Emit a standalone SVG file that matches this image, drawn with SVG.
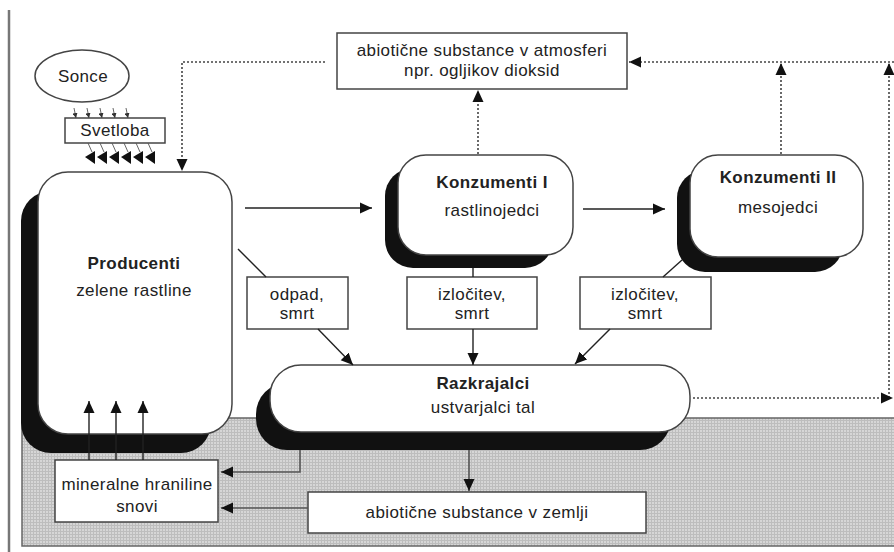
<svg xmlns="http://www.w3.org/2000/svg" width="894" height="552" viewBox="0 0 894 552">
<defs>
<style>
text{font-family:"Liberation Sans",Arial,sans-serif;font-size:17px;fill:#222;text-anchor:middle;letter-spacing:0.4px}
.b{font-weight:bold}
.box{fill:#fff;stroke:#444;stroke-width:1.5}
.shadow{fill:#111}
.ln{stroke:#222;stroke-width:1.4;fill:none}
.dot{stroke:#444;stroke-width:1.6;fill:none;stroke-dasharray:2 2}
.gln{stroke:#555;stroke-width:1.6;fill:none}
</style>
<marker id="ah" viewBox="0 0 12 12" refX="12" refY="6" markerWidth="12" markerHeight="12" markerUnits="userSpaceOnUse" orient="auto"><path d="M0,0.5 L12,6 L0,11.5 z" fill="#111"/></marker>
<marker id="ahs" viewBox="0 0 6 6" refX="6" refY="3" markerWidth="5" markerHeight="5" markerUnits="userSpaceOnUse" orient="auto"><path d="M0,0 L6,3 L0,6 z" fill="#333"/></marker>
<pattern id="grid" width="3" height="3" patternUnits="userSpaceOnUse"><rect width="3" height="3" fill="#d6d6d6"/><path d="M0,0.5 H3 M0.5,0 V3" stroke="#bdbdbd" stroke-width="1"/></pattern>
</defs>
<rect width="894" height="552" fill="#fff"/>
<line x1="9" y1="10" x2="9" y2="552" stroke="#777" stroke-width="2.5"/>
<rect x="22" y="418" width="880" height="128" fill="url(#grid)" stroke="#666" stroke-width="1.5"/>

<g id="sonce">
<ellipse cx="82" cy="76" rx="47" ry="26" class="box"/>
<text x="83" y="82">Sonce</text>
</g>
<g id="svetloba">
<rect x="65" y="118" width="100" height="25" class="box"/>
<text x="115" y="136">Svetloba</text>
</g>
<g id="atmosfera">
<rect x="337" y="33" width="290" height="56" class="box"/>
<text x="482" y="56">abiotične substance v atmosferi</text>
<text x="482" y="76">npr. ogljikov dioksid</text>
</g>
<g id="producenti">
<rect x="21" y="191" width="190" height="262" rx="30" class="shadow"/>
<rect x="38" y="172" width="194" height="262" rx="30" class="box"/>
<text x="134" y="269" class="b">Producenti</text>
<text x="134" y="296">zelene rastline</text>
</g>
<g id="konzumenti1">
<rect x="385" y="168" width="168" height="100" rx="28" class="shadow"/>
<rect x="398" y="155" width="175" height="100" rx="28" class="box"/>
<text x="492" y="188" class="b">Konzumenti I</text>
<text x="492" y="216">rastlinojedci</text>
</g>
<g id="konzumenti2">
<rect x="677" y="170" width="166" height="102" rx="28" class="shadow"/>
<rect x="690" y="155" width="173" height="102" rx="28" class="box"/>
<text x="778" y="183" class="b">Konzumenti II</text>
<text x="778" y="213">mesojedci</text>
</g>
<g id="odpad">
<rect x="247" y="277" width="101" height="52" class="box"/>
<text x="297" y="300">odpad,</text>
<text x="297" y="319">smrt</text>
</g>
<g id="izlocitev1">
<rect x="407" y="277" width="130" height="52" class="box"/>
<text x="472" y="300">izločitev,</text>
<text x="472" y="319">smrt</text>
</g>
<g id="izlocitev2">
<rect x="580" y="277" width="131" height="52" class="box"/>
<text x="645" y="300">izločitev,</text>
<text x="645" y="319">smrt</text>
</g>
<g id="razkrajalci">
<rect x="256" y="383" width="415" height="67" rx="31" class="shadow"/>
<rect x="270" y="365" width="420" height="67" rx="31" class="box"/>
<text x="483" y="389" class="b">Razkrajalci</text>
<text x="483" y="413">ustvarjalci tal</text>
</g>
<g id="mineralne">
<rect x="55" y="460" width="163" height="62" class="box"/>
<text x="137" y="490">mineralne hraniline</text>
<text x="137" y="512">snovi</text>
</g>
<g id="zemlja">
<rect x="308" y="492" width="338" height="41" class="box"/>
<text x="477" y="518">abiotične substance v zemlji</text>
</g>

<g id="connectors">
<line class="ln" x1="245" y1="208" x2="372" y2="208" marker-end="url(#ah)"/>
<line class="ln" x1="583" y1="209" x2="665" y2="209" marker-end="url(#ah)"/>
<line class="dot" x1="478" y1="154" x2="478" y2="90" marker-end="url(#ah)"/>
<line class="dot" x1="781" y1="154" x2="781" y2="63" marker-end="url(#ah)"/>
<line class="dot" x1="894" y1="62" x2="629" y2="62" marker-end="url(#ah)"/>
<line class="dot" x1="889" y1="398" x2="889" y2="63" marker-end="url(#ah)"/>
<line class="dot" x1="693" y1="398" x2="893" y2="398" marker-end="url(#ah)"/>
<path class="dot" d="M325,62 H182 V171" marker-end="url(#ah)"/>
<line class="ln" x1="238" y1="249" x2="266" y2="277"/>
<line class="ln" x1="318" y1="329" x2="353" y2="365" marker-end="url(#ah)"/>
<line class="ln" x1="473" y1="268" x2="473" y2="277" stroke="#888"/>
<line class="ln" x1="473" y1="329" x2="473" y2="365" marker-end="url(#ah)"/>
<line class="ln" x1="682" y1="260" x2="663" y2="277"/>
<line class="ln" x1="610" y1="329" x2="575" y2="364" marker-end="url(#ah)"/>
<line class="gln" x1="469" y1="450" x2="469" y2="491" marker-end="url(#ah)"/>
<path class="gln" d="M300,450 V472 H221" marker-end="url(#ah)"/>
<line class="gln" x1="308" y1="508" x2="221" y2="508" marker-end="url(#ah)"/>
<line class="ln" x1="89" y1="460" x2="89" y2="401" marker-end="url(#ah)"/>
<line class="ln" x1="116" y1="460" x2="116" y2="401" marker-end="url(#ah)"/>
<line class="ln" x1="143" y1="460" x2="143" y2="401" marker-end="url(#ah)"/>
<g stroke="#555" stroke-width="0.9">
<line x1="74" y1="108" x2="76" y2="118" marker-end="url(#ahs)"/>
<line x1="87" y1="108" x2="89" y2="118" marker-end="url(#ahs)"/>
<line x1="100" y1="108" x2="102" y2="118" marker-end="url(#ahs)"/>
<line x1="113" y1="108" x2="115" y2="118" marker-end="url(#ahs)"/>
<line x1="126" y1="108" x2="128" y2="118" marker-end="url(#ahs)"/>
<line x1="88" y1="143" x2="92" y2="152"/>
<line x1="100" y1="143" x2="104" y2="152"/>
<line x1="112" y1="143" x2="116" y2="152"/>
<line x1="124" y1="143" x2="128" y2="152"/>
<line x1="136" y1="143" x2="140" y2="152"/>
<line x1="148" y1="143" x2="152" y2="152"/>
</g>
<g fill="#111">
<path d="M85,157 L95,151 L95,164 z"/>
<path d="M97,157 L107,151 L107,164 z"/>
<path d="M109,157 L119,151 L119,164 z"/>
<path d="M121,157 L131,151 L131,164 z"/>
<path d="M133,157 L143,151 L143,164 z"/>
<path d="M145,157 L155,151 L155,164 z"/>
</g>
</g>
</svg>
